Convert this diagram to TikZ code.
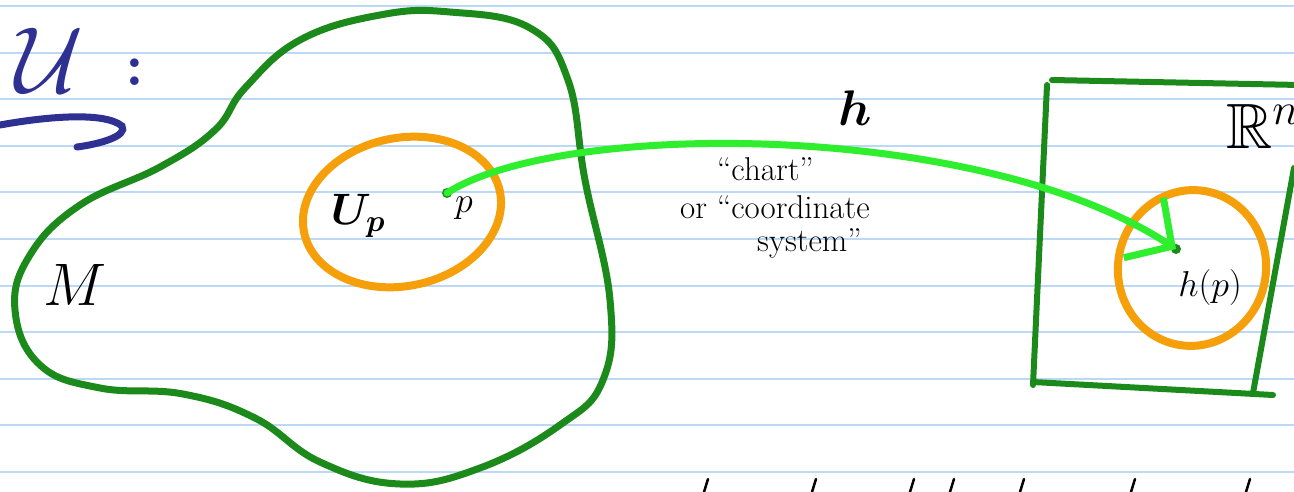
\RequirePackage{fix-cm}
\documentclass[tikz,border=0pt]{standalone}
\usepackage[dvipsnames,svgnames,x11names]{xcolor}
\usepackage{tikz,amsmath,amssymb,bm}
\usetikzlibrary{calc, positioning}
\usetikzlibrary{arrows.meta}

\definecolor{ManGreen}{HTML}{1B8A1B}
\definecolor{ChartGreen}{HTML}{2EEE2E}
\definecolor{NbhdOrange}{HTML}{F5A00A}
\definecolor{RuleBlue}{HTML}{BBD8F5}
\definecolor{InkBlue}{HTML}{2E3192}

\begin{document}
\begin{tikzpicture}[x=1pt, y=-1pt,
    ruling/.style={RuleBlue, line width=2pt},
    manifold/.style={ManGreen, line width=7pt, line cap=round, line join=round},
    nbhd/.style={NbhdOrange, line width=8pt},
    chartmap/.style={ChartGreen, line width=7pt, line cap=round,
      -{Straight Barb[length=34pt, width=72pt]}},
    ink/.style={inner sep=0pt, font=\fontsize{#1}{#1}\selectfont},
  ]
    \useasboundingbox (0,0) rectangle (1294,492);
    \clip (0,0) rectangle (1294,492);
    \fill[white] (0,0) rectangle (1294,492);
    % ruled paper
    \foreach \k in {0,...,10}
      \draw[ruling] (0,{6+46.6*\k}) -- (1294,{6+46.6*\k});

    % heading
    \node[ink=94, text=InkBlue] (calU) at (50,60) {$\mathcal{U}$};
    \node[ink=60, text=InkBlue] (colon) at (135,72) {\bfseries :};
    \draw[InkBlue, line width=7pt, line cap=round]
      (0,125) .. controls (50,116) and (105,112) .. (122,126)
      .. controls (128,136) and (100,144) .. (77,147);

    % the manifold M
    \draw[manifold] plot[smooth cycle, tension=0.7] coordinates {
      (245,88) (300,40) (380,15) (450,12) (530,28) (568,80) (585,180)
      (610,300) (603,380) (560,425) (480,468) (400,484) (320,462)
      (255,418) (183,394) (100,388) (40,365) (15,310) (30,255)
      (80,205) (160,167) (215,130)};
    \node[ink=60] (Mlab) at (75,285) {$M$};

    % neighbourhood U_p of p
    \draw[nbhd, rotate around={12:(402,212)}] (402,212) ellipse (100pt and 74pt);
    \coordinate (p) at (447,193);
    \fill[ManGreen] (p) circle (5pt);
    \node[ink=44] (Up) at (358,216) {$\boldsymbol{U}_{\boldsymbol{p}}$};
    \node[ink=36] (plab) at (464,208) {$p$};

    % R^n
    \draw[ManGreen, line width=6pt, line cap=round]
      (1047,85) -- (1033,385)
      (1052,80) -- (1300,85)
      (1033,382) -- (1273,395)
      (1294,168) -- (1253,393);
    \node[ink=64, anchor=west] (Rn) at (1226,126) {$\mathbb{R}^n$};
    \draw[nbhd, rotate around={-10:(1192,268)}] (1192,268) ellipse (74pt and 78pt);
    \coordinate (hp) at (1176,249);
    \fill[ManGreen] (hp) circle (5pt);
    \node[ink=36] (hplab) at (1210,288) {$h(p)$};

    % the chart h
    \draw[chartmap] (p) .. controls (560,120) and (980,120) .. (hp);
    \node[ink=50] (hlab) at (855,108) {$\boldsymbol{h}$};
    \node[ink=33, anchor=west] (chart) at (717,169) {``chart''};
    \node[ink=33, anchor=west] (chartor) at (680,207) {or ``coordinate};
    \node[ink=33, anchor=west] (chartsys) at (757,243) {system''};

    % cut-off writing below
    \foreach \x in {704,812,910,950,1020,1131,1246}
      \draw[black, line width=2.5pt, line cap=round] (\x+4,479) -- (\x,492);
  \end{tikzpicture}
\end{document}
